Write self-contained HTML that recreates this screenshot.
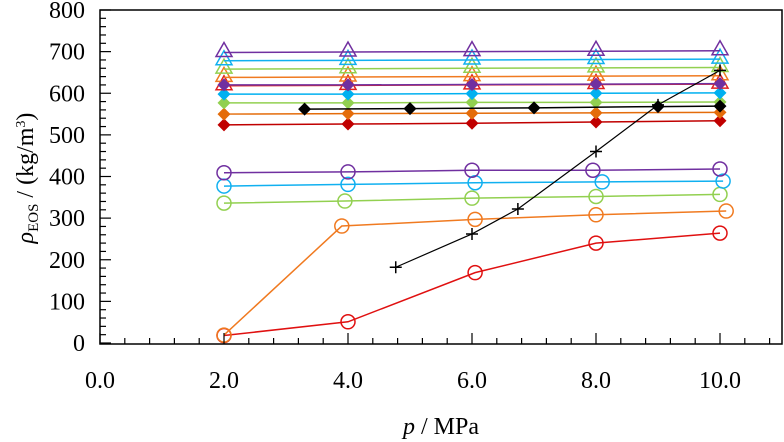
<!DOCTYPE html>
<html><head><meta charset="utf-8"><style>
body{margin:0;background:#fff}
text{font-family:"Liberation Serif","DejaVu Serif",serif;fill:#000}
</style></head><body>
<svg width="784" height="442" xmlns="http://www.w3.org/2000/svg" style="position:absolute;left:0;top:0">
<g id="plot"></g>
<g id="axes"></g>
<text x="441" y="434" text-anchor="middle" font-size="24" font-family="Liberation Serif, serif"><tspan font-style="italic">p</tspan> / MPa</text>
<text transform="translate(33,178) rotate(-90)" text-anchor="middle" font-size="24" font-family="Liberation Serif, serif"><tspan font-style="italic">ρ</tspan><tspan font-size="15" dy="5">EOS</tspan><tspan dy="-5"> / (kg/m</tspan><tspan font-size="14" dy="-8">3</tspan><tspan dy="8">)</tspan></text>
</svg>
<script>
const xTicks=[0,2,4,6,8,10];
const xTickLabels=["0.0","2.0","4.0","6.0","8.0","10.0"];
const yTicks=[0,100,200,300,400,500,600,700,800];
const yTickLabels=["0","100","200","300","400","500","600","700","800"];
const pX=[2,4,6,8,10];
const triPurple=[698,699,700,701,702];
const triCyan=[678,679,680,681,682];
const triGreen=[658,659,660,661,662];
const triOrange=[638,639,640,641,642];
const triRed=[618,619,620,621,622];
const diaPurple=[620,620,621,622,623];
const diaCyan=[598,598,599,600,601];
const diaGreen=[577,577,578,578,579];
const diaOrange=[550,551,552,553,554];
const diaRed=[524,526,528,531,534];
const blackDiaX=[3.3,5.0,7.0,9.0,10.0];
const blackDia=[562,563,565,568,569];
const plusX=[4.77,6.0,6.74,8.0,9.0,10.0];
const plusVals=[182,262,322,460,572,655];
const circPurpleX=[2,4,6,7.95,10];
const circPurple=[409,411,415,415,418];
const circCyanX=[2,4,6.05,8.1,10.05];
const circCyan=[377,381,385,387,389];
const circGreenX=[2,3.95,6,8,10];
const circGreen=[336,341,348,352,357];
const circOrangeX=[2,3.9,6.05,8,10.1];
const circOrange=[19,281,297,308,317];
const circRedX=[2,4,6.05,8,10];
const circRed=[18,51,169,240,264];

const X0=100,XK=62,Y0=343,YK=0.41625;
const sx=v=>X0+v*XK, sy=v=>Y0-v*YK;
const NS="http://www.w3.org/2000/svg";
const plot=document.getElementById('plot'),axes=document.getElementById('axes');
function mk(tag,attrs,parent){const e=document.createElementNS(NS,tag);for(const k in attrs)e.setAttribute(k,attrs[k]);parent.appendChild(e);return e;}
function series(name,xs,ys,color,marker,lw){
  const g=mk('g',{},plot);
  
  
  mk('polyline',{points:xs.map((x,i)=>sx(x)+','+sy(ys[i])).join(' '),fill:'none',stroke:color,'stroke-width':lw||1.5},g);
  xs.forEach((x,i)=>{
    const cx=sx(x),cy=sy(ys[i]);let m;
    if(marker==='tri')m=mk('polygon',{points:`${cx},${cy-10} ${cx-8},${cy+4} ${cx+8},${cy+4}`,fill:'none',stroke:color,'stroke-width':1.5},g);
    else if(marker==='dia')m=mk('polygon',{points:`${cx},${cy-6.5} ${cx+6.5},${cy} ${cx},${cy+6.5} ${cx-6.5},${cy}`,fill:color},g);
    else if(marker==='circ')m=mk('circle',{cx:cx,cy:cy,r:7,fill:'none',stroke:color,'stroke-width':1.5},g);
    else m=mk('path',{d:`M${cx-6},${cy}H${cx+6}M${cx},${cy-6}V${cy+6}`,stroke:color,'stroke-width':1.5},g);
    
    
  });
}
series('circle-red',circRedX,circRed,'#e01010','circ');
series('circle-orange',circOrangeX,circOrange,'#f07a20','circ');
series('circle-green',circGreenX,circGreen,'#92d050','circ');
series('circle-cyan',circCyanX,circCyan,'#10b0f0','circ');
series('circle-purple',circPurpleX,circPurple,'#7030a0','circ');
series('diamond-red',pX,diaRed,'#c00000','dia');
series('diamond-orange',pX,diaOrange,'#e46c0a','dia');
series('diamond-green',pX,diaGreen,'#92d050','dia');
series('diamond-cyan',pX,diaCyan,'#00b0f0','dia');
series('triangle-red',pX,triRed,'#e02020','tri');
series('triangle-orange',pX,triOrange,'#f07a20','tri');
series('triangle-green',pX,triGreen,'#92d050','tri');
series('triangle-cyan',pX,triCyan,'#10b0f0','tri');
series('triangle-purple',pX,triPurple,'#7030a0','tri');
series('diamond-purple',pX,diaPurple,'#7030a0','dia');
series('diamond-black',blackDiaX,blackDia,'#000','dia');
series('plus-black',plusX,plusVals,'#000','plus',1.2);

const frame=mk('rect',{x:100,y:10,width:682,height:334,fill:'none',stroke:'#000','stroke-width':1.5},axes);

for(let v=0;v<=11.001;v+=0.4){const x=sx(v);const major=xTicks.some(t=>Math.abs(t-v)<1e-6);mk('line',{x1:x,x2:x,y1:344,y2:major?333:338,stroke:'#000','stroke-width':1.2},axes);}
for(let v=0;v<=800;v+=20){const y=sy(v);const major=v%100===0;mk('line',{x1:100,x2:major?111:106,y1:y,y2:y,stroke:'#000','stroke-width':1.2},axes);}
xTicks.forEach((t,i)=>{const e=mk('text',{x:sx(t),y:388,'text-anchor':'middle','font-size':24,'font-family':'Liberation Serif, serif'},axes);e.textContent=xTickLabels[i];
});
yTicks.forEach((t,i)=>{const e=mk('text',{x:85,y:sy(t)+8,'text-anchor':'end','font-size':24,'font-family':'Liberation Serif, serif'},axes);e.textContent=yTickLabels[i];
});
</script>
</body></html>
